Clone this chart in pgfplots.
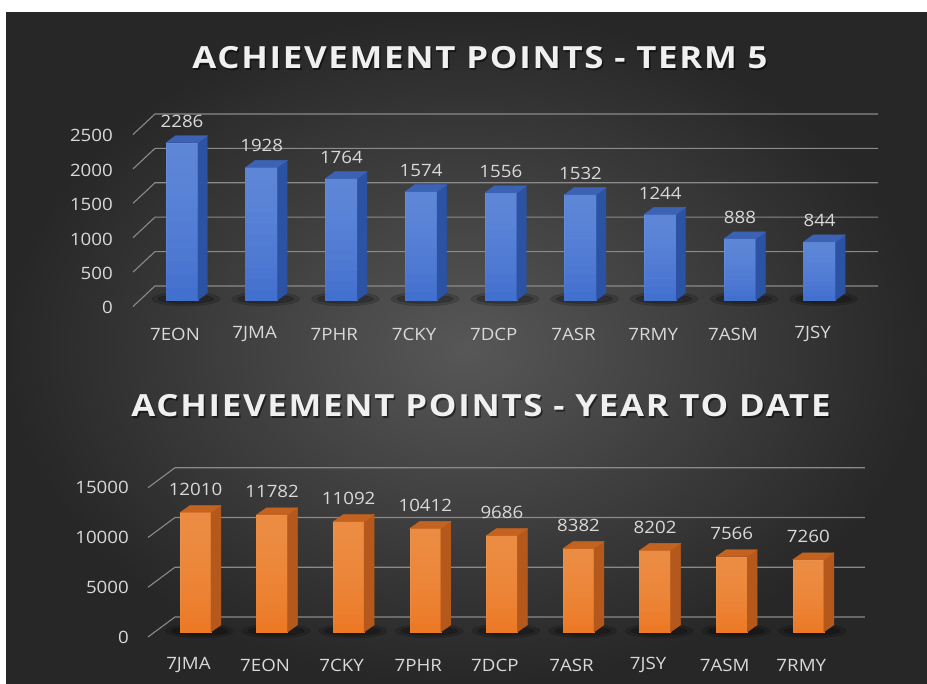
\documentclass[border=0pt]{standalone}
\usepackage{pgfplots}
\pgfplotsset{compat=1.18}
\usepackage{pgfplotstable}
\usepackage{fontspec}
\setmainfont{Open Sans}
\newfontfamily\titlefont[LetterSpace=5]{Open Sans}
\definecolor{bgin}{HTML}{575757}
\definecolor{bgout}{HTML}{272727}
\definecolor{gridc}{HTML}{8A8A8A}
\definecolor{txt}{HTML}{D9D9D9}
\definecolor{bluetop}{HTML}{6E95E0}
\definecolor{bluebot}{HTML}{3E6CCE}
\definecolor{blueside}{HTML}{2C52A3}
\definecolor{bluecap}{HTML}{3C62B6}
\definecolor{orgtop}{HTML}{F59A55}
\definecolor{orgbot}{HTML}{EC7620}
\definecolor{orgside}{HTML}{B4581B}
\definecolor{orgcap}{HTML}{C4631F}

\pgfplotstableread{
x v
0 2286
1 1928
2 1764
3 1574
4 1556
5 1532
6 1244
7 888
8 844
}\termdata
\pgfplotstableread{
x v
0 12010
1 11782
2 11092
3 10412
4 9686
5 8382
6 8202
7 7566
8 7260
}\yeardata

\newcommand\tickfont{\fontsize{17}{17}\selectfont}
\pgfplotsset{
  base/.style={
    anchor=south west, clip=false,
    axis line style={draw=none}, major tick length=0pt, tick style={draw=none},
    scaled y ticks=false,
    xtick={0,...,8},
    xticklabel style={anchor=center, inner sep=0pt, font=\tickfont, text=txt, xshift=-7pt, xscale=1.1},
    yticklabel style={anchor=east, inner sep=0pt, font=\tickfont, text=txt, xscale=1.1},
    /pgf/number format/assume math mode=true,
    /pgf/number format/1000 sep={},
  },
  cubeplot/.style n args={7}{
    % #1 scale, #2 half width, #3 dx, #4 side, #5 cap, #6 front top, #7 front bottom
    scatter, only marks, mark=*, mark size=0pt, mark options={draw=none, fill=none},
    visualization depends on={\thisrow{v} \as \val},
    scatter/@pre marker code/.code={
      \pgfmathsetmacro\hh{\val*#1}
      \pgfmathsetmacro\hb{7-\hh}
      \pgfmathsetmacro\xr{#2+#3}
      \pgfmathsetmacro\xl{-#2+#3}
      \pgfmathsetmacro\hs{-\hh+1}
      \fill[black, opacity=0.16] (4pt,\hs pt) ellipse [x radius=34pt, y radius=7pt];
      \fill[black, opacity=0.22] (4pt,\hs pt) ellipse [x radius=28pt, y radius=4.5pt];
      \fill[#7] (-#2pt,-\hh pt) rectangle (#2pt,0pt);
      \foreach \k in {1,...,12}{
        \pgfmathsetmacro\yk{-\hh*\k/12}
        \fill[#6, opacity=0.1] (-#2pt,\yk pt) rectangle (#2pt,0pt);
      }
      \fill[#4] (#2pt,0pt) -- (\xr pt,7pt) -- (\xr pt,\hb pt) -- (#2pt,-\hh pt) -- cycle;
      \fill[#5] (-#2pt,0pt) -- (#2pt,0pt) -- (\xr pt,7pt) -- (\xl pt,7pt) -- cycle;
    },
    scatter/@post marker code/.code={},
  },
  labelplot/.style={
    draw=none, mark=none, nodes near coords,
    every node near coord/.append style={anchor=center, font=\tickfont, text=txt, inner sep=0pt, xscale=1.1},
  },
}

\begin{document}
\begin{tikzpicture}[x=1pt,y=1pt]
\useasboundingbox (0,0) rectangle (927,684);
\fill[white] (0,0) rectangle (927,684);
\shade[inner color=bgin, outer color=bgout] (6,0) rectangle (927,671);

% titles
\tikzset{ttl/.style={font=\titlefont\fontsize{30.5}{30}\bfseries, xscale=1.14}}
\node[ttl, black, opacity=0.5] at (481.5,624.5) {ACHIEVEMENT POINTS - TERM 5};
\node[ttl, white!94!black] at (480,626) {ACHIEVEMENT POINTS - TERM 5};
\node[ttl, black, opacity=0.5] at (482.5,276.5) {ACHIEVEMENT POINTS - YEAR TO DATE};
\node[ttl, white!94!black] at (481,278) {ACHIEVEMENT POINTS - YEAR TO DATE};

% ---------------- Term 5 ----------------
\begin{axis}[base, at={(113pt,350pt)}, x=79.7pt, y=0.0688pt,
  xmin=-0.8657, xmax=9, ymin=-494.2, ymax=2907,
  xticklabels={7EON,7JMA,7PHR,7CKY,7DCP,7ASR,7RMY,7ASM,7JSY},
  ytick={-115,385,885,1385,1885,2385}, yticklabels={0,500,1000,1500,2000,2500}]
\draw[gridc, line width=1.1pt] (axis cs:-0.615,-95) -- (axis cs:-0.339,203.5) -- (axis cs:8.733,203.5);
\draw[gridc, line width=1.1pt] (axis cs:-0.615,405) -- (axis cs:-0.339,703.5) -- (axis cs:8.733,703.5);
\draw[gridc, line width=1.1pt] (axis cs:-0.615,905) -- (axis cs:-0.339,1203.5) -- (axis cs:8.733,1203.5);
\draw[gridc, line width=1.1pt] (axis cs:-0.615,1405) -- (axis cs:-0.339,1703.5) -- (axis cs:8.733,1703.5);
\draw[gridc, line width=1.1pt] (axis cs:-0.615,1905) -- (axis cs:-0.339,2203.5) -- (axis cs:8.733,2203.5);
\draw[gridc, line width=1.1pt] (axis cs:-0.615,2405) -- (axis cs:-0.339,2703.5) -- (axis cs:8.733,2703.5);
\addplot[ybar, bar width=28pt, bar shift=0pt, draw=none, fill=bluebot] table[x=x,y=v]{\termdata};
\addplot[cubeplot={0.0688}{16}{9.5}{blueside}{bluecap}{bluetop}{bluebot}] table[x=x,y=v]{\termdata};
\addplot[labelplot, every node near coord/.append style={yshift=21.5pt}] table[x=x,y=v]{\termdata};
\end{axis}

% ---------------- Year to date ----------------
\begin{axis}[base, at={(129pt,19pt)}, x=76.6pt, y=0.00995pt,
  xmin=-0.868, xmax=9, ymin=-3316.6, ymax=19296,
  xticklabels={7JMA,7EON,7CKY,7PHR,7DCP,7ASR,7JSY,7ASM,7RMY},
  ytick={-502,4498,9498,14498}, yticklabels={0,5000,10000,15000}]
\draw[gridc, line width=1.1pt] (axis cs:-0.62,-502) -- (axis cs:-0.268,1507.5) -- (axis cs:8.74,1507.5);
\draw[gridc, line width=1.1pt] (axis cs:-0.62,4498) -- (axis cs:-0.268,6507.5) -- (axis cs:8.74,6507.5);
\draw[gridc, line width=1.1pt] (axis cs:-0.62,9498) -- (axis cs:-0.268,11507.5) -- (axis cs:8.74,11507.5);
\draw[gridc, line width=1.1pt] (axis cs:-0.62,14498) -- (axis cs:-0.268,16507.5) -- (axis cs:8.74,16507.5);
\addplot[ybar, bar width=27pt, bar shift=0pt, draw=none, fill=orgbot] table[x=x,y=v]{\yeardata};
\addplot[cubeplot={0.00995}{15.5}{10}{orgside}{orgcap}{orgtop}{orgbot}] table[x=x,y=v]{\yeardata};
\addplot[labelplot, every node near coord/.append style={yshift=23pt}] table[x=x,y=v]{\yeardata};
\end{axis}
\end{tikzpicture}
\end{document}
